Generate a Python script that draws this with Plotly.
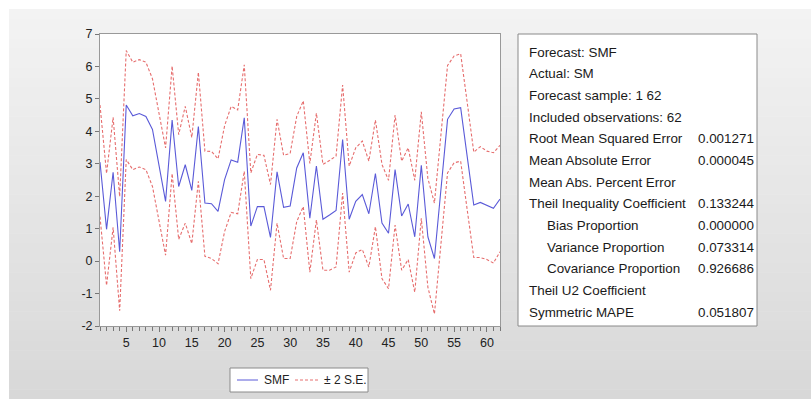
import plotly.graph_objects as go

obs = list(range(1, 63))

smf = [3.05, 0.98, 2.74, 0.29, 4.81, 4.48, 4.55, 4.46, 4.06, 3.00,
       1.84, 4.35, 2.30, 2.97, 2.18, 4.15, 1.79, 1.77, 1.53, 2.51,
       3.12, 3.05, 4.42, 1.08, 1.68, 1.68, 0.73, 2.75, 1.66, 1.70,
       2.87, 3.34, 1.32, 2.93, 1.29, 1.42, 1.56, 3.75, 1.29, 1.84,
       2.05, 1.46, 2.70, 1.17, 0.86, 2.82, 1.39, 1.76, 0.75, 2.95,
       0.75, 0.08, 2.20, 4.37, 4.69, 4.73, 3.22, 1.73, 1.81, 1.73,
       1.63, 1.91]

upper = [4.81, 2.70, 4.43, 1.99, 6.49, 6.13, 6.21, 6.13, 5.62, 4.58,
         3.49, 6.01, 3.90, 4.77, 3.81, 5.82, 3.39, 3.38, 3.15, 4.17,
         4.77, 4.66, 6.05, 2.72, 3.29, 3.26, 2.36, 4.37, 3.26, 3.32,
         4.46, 4.94, 3.01, 4.56, 2.98, 3.10, 3.24, 5.43, 2.93, 3.49,
         3.70, 3.08, 4.35, 2.98, 2.49, 4.50, 3.08, 3.49, 2.49, 4.60,
         2.55, 1.79, 3.86, 6.03, 6.32, 6.39, 4.89, 3.36, 3.53, 3.39,
         3.34, 3.57]

lower = [1.37, -0.75, 1.04, -1.53, 3.13, 2.82, 2.90, 2.82, 2.30, 1.27,
         0.18, 2.70, 0.67, 1.17, 0.54, 2.46, 0.15, 0.08, -0.08, 0.91,
         1.50, 1.46, 2.77, -0.54, 0.05, 0.05, -0.90, 1.17, 0.08, 0.08,
         1.22, 1.68, -0.34, 1.27, -0.28, -0.28, -0.18, 2.10, -0.34, 0.25,
         0.36, -0.18, 1.06, -0.54, -0.85, 1.11, -0.28, 0.05, -0.96, 1.32,
         -0.80, -1.63, 0.54, 2.72, 3.03, 3.08, 1.58, 0.11, 0.11, 0.05,
         -0.06, 0.29]

y_ticks = [-2, -1, 0, 1, 2, 3, 4, 5, 6, 7]
x_ticks = [5, 10, 15, 20, 25, 30, 35, 40, 45, 50, 55, 60]

series_names = ["SMF", "± 2 S.E."]

stat_labels = ["Forecast: SMF", "Actual: SM", "Forecast sample: 1 62",
               "Included observations: 62", "Root Mean Squared Error",
               "Mean Absolute Error", "Mean Abs. Percent Error",
               "Theil Inequality Coefficient", "Bias Proportion",
               "Variance Proportion", "Covariance Proportion",
               "Theil U2 Coefficient", "Symmetric MAPE"]
stat_values = ["", "", "", "", "0.001271", "0.000045", "", "0.133244",
               "0.000000", "0.073314", "0.926686", "", "0.051807"]
stat_indent = [False, False, False, False, False, False, False, False,
               True, True, True, False, False]

W, H = 811, 399
L, R, T, B = 100, 311, 34, 73
PW, PH = W - L - R, H - T - B


def px(x):
    return (x - L) / PW


def py(y):
    return (H - B - y) / PH


FONT = "Liberation Sans, Arial, sans-serif"
BLUE = "#5a5ad8"
RED = "#e66e6e"
DASH = "3px,2px"

fig = go.Figure()
fig.add_trace(go.Scatter(x=obs, y=smf, mode="lines", name=series_names[0],
                         showlegend=False, line=dict(color=BLUE, width=1.1)))
fig.add_trace(go.Scatter(x=obs, y=upper, mode="lines", name=series_names[1],
                         showlegend=False,
                         line=dict(color=RED, width=1.1, dash=DASH)))
fig.add_trace(go.Scatter(x=obs, y=lower, mode="lines", name=series_names[1],
                         showlegend=False,
                         line=dict(color=RED, width=1.1, dash=DASH)))

shapes = []
# gradient grey panel
n = 40
top, bot = 9, H
for i in range(n):
    y0 = top + (bot - top) * i / n
    y1 = top + (bot - top) * (i + 1) / n + 0.5
    t = i / (n - 1)
    c = int(round(243 - t * (243 - 216)))
    shapes.append(dict(type="rect", xref="paper", yref="paper", layer="below",
                       x0=px(9), x1=px(W), y0=py(y1), y1=py(y0),
                       line=dict(width=0), fillcolor=f"rgb({c},{c},{c})"))
# white plot area
shapes.append(dict(type="rect", xref="paper", yref="paper", layer="below",
                   x0=0, x1=1, y0=0, y1=1, line=dict(width=0),
                   fillcolor="white"))
# stats box
shapes.append(dict(type="rect", xref="paper", yref="paper", layer="below",
                   x0=px(518), x1=px(757), y0=py(326), y1=py(34),
                   line=dict(color="#8a8a8a", width=1), fillcolor="white"))
# legend box
shapes.append(dict(type="rect", xref="paper", yref="paper", layer="below",
                   x0=px(230), x1=px(368), y0=py(392), y1=py(368),
                   line=dict(color="#8a8a8a", width=1), fillcolor="white"))
shapes.append(dict(type="line", xref="paper", yref="paper", layer="above",
                   x0=px(237), x1=px(258), y0=py(380), y1=py(380),
                   line=dict(color=BLUE, width=1)))
shapes.append(dict(type="line", xref="paper", yref="paper", layer="above",
                   x0=px(295), x1=px(318), y0=py(380), y1=py(380),
                   line=dict(color=RED, width=1, dash=DASH)))

annotations = []
for k, (lab, val, ind) in enumerate(zip(stat_labels, stat_values, stat_indent)):
    yc = 52 + 21.67 * k
    annotations.append(dict(xref="paper", yref="paper", x=px(545 if ind else 527),
                            y=py(yc), text=lab, showarrow=False,
                            xanchor="left", yanchor="middle",
                            font=dict(family=FONT, size=13.4, color="#1a1a1a")))
    if val:
        annotations.append(dict(xref="paper", yref="paper", x=px(756),
                                y=py(yc), text=val, showarrow=False,
                                xanchor="right", yanchor="middle",
                                font=dict(family=FONT, size=13.4, color="#1a1a1a")))

for name, xl in zip(series_names, [262, 322]):
    annotations.append(dict(xref="paper", yref="paper", x=px(xl), y=py(380),
                            text=name, showarrow=False, xanchor="left",
                            yanchor="middle",
                            font=dict(family=FONT, size=12, color="#222")))

fig.update_layout(
    width=W, height=H,
    margin=dict(l=L, r=R, t=T, b=B, pad=0),
    paper_bgcolor="white", plot_bgcolor="white",
    shapes=shapes, annotations=annotations, showlegend=False,
    font=dict(family=FONT, size=12, color="#222"),
    xaxis=dict(range=[1, 62], tickmode="array", tickvals=x_ticks,
               ticktext=[str(v) for v in x_ticks],
               ticks="outside", ticklen=5, tickcolor="#777", showgrid=False,
               zeroline=False, showline=True, linecolor="#999", mirror=True,
               minor=dict(dtick=1, tick0=0, ticks="outside", ticklen=4,
                          tickcolor="#777", showgrid=False),
               tickfont=dict(family=FONT, size=12.5, color="#222")),
    yaxis=dict(range=[-2, 7], tickmode="array", tickvals=y_ticks,
               ticktext=[str(v) for v in y_ticks],
               ticks="outside", ticklen=4, tickcolor="#777", showgrid=False,
               zeroline=False, showline=True, linecolor="#999", mirror=True,
               tickfont=dict(family=FONT, size=12.5, color="#222")),
)

fig.write_html("out.html", config={"displayModeBar": False})

with open("out.html", "r", encoding="utf-8") as f:
    html = f.read()
html = html.replace("<body>", '<body style="margin:0;overflow:hidden">', 1)
with open("out.html", "w", encoding="utf-8") as f:
    f.write(html)
